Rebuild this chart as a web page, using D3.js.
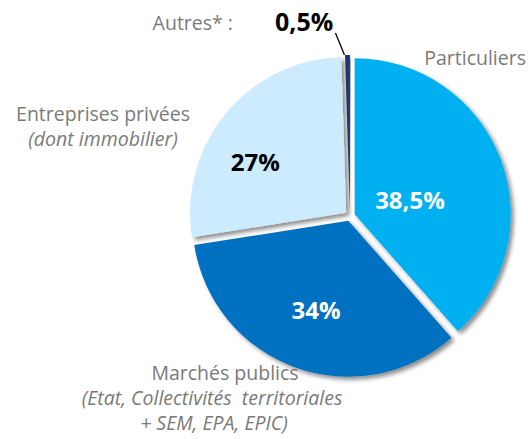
<!DOCTYPE html>
<html>
<head>
<meta charset="utf-8">
<script src="https://cdn.jsdelivr.net/npm/d3@7"></script>
<style>
  body { margin: 0; background: #fff; }
  svg { display: block; font-family: "Open Sans", Lato, sans-serif; }
  text { white-space: pre; }
</style>
</head>
<body>
<svg id="chart" width="528" height="439"></svg>
<script>
// parts of the market, clockwise from 12 o'clock
const categories = ["Particuliers", "Marchés publics", "Entreprises privées", "Autres"];
const shares = [38.5, 34, 27, 0.5];
const shareLabels = ["38,5%", "34%", "27%", "0,5%"];
const colors = ["#00b0f0", "#0070c0", "#cdebfe", "#1f3871"];

const width = 528, height = 439;
const cx = 350, cy = 216, radius = 156, explode = 5;

const svg = d3.select("#chart");

const defs = svg.append("defs");
defs.append("filter")
    .attr("id", "shadow")
    .attr("x", "-20%").attr("y", "-20%")
    .attr("width", "140%").attr("height", "140%")
    .append("feDropShadow")
    .attr("dx", 3).attr("dy", 3)
    .attr("stdDeviation", 2.2)
    .attr("flood-color", "#000")
    .attr("flood-opacity", 0.45);

const pie = d3.pie().sort(null).value(d => d.value);
const arc = d3.arc().innerRadius(0).outerRadius(radius);

const data = categories.map((c, i) => ({ name: c, value: shares[i], label: shareLabels[i], color: colors[i] }));
const arcs = pie(data);

const g = svg.append("g").attr("transform", `translate(${cx},${cy})`);

function shift(d, r) {
    const a = (d.startAngle + d.endAngle) / 2;
    return [Math.sin(a) * r, -Math.cos(a) * r];
}

g.selectAll("path.slice")
    .data(arcs)
    .join("path")
    .attr("class", "slice")
    .attr("d", arc)
    .attr("fill", d => d.data.color)
    .attr("filter", "url(#shadow)")
    .attr("transform", d => `translate(${shift(d, explode)})`);

// percentage labels inside the slices: [radius, angle offset in degrees]
const inner = {
    "Particuliers": [62, 6],
    "Marchés publics": [100, 0],
    "Entreprises privées": [109, -10]
};
const inside = arcs.filter(d => inner[d.data.name]);
g.selectAll("text.pct")
    .data(inside)
    .join("text")
    .attr("class", "pct")
    .attr("x", d => {
        const [r, da] = inner[d.data.name];
        const a = (d.startAngle + d.endAngle) / 2 + da * Math.PI / 180;
        return Math.sin(a) * r;
    })
    .attr("y", d => {
        const [r, da] = inner[d.data.name];
        const a = (d.startAngle + d.endAngle) / 2 + da * Math.PI / 180;
        return -Math.cos(a) * r;
    })
    .attr("dy", "0.36em")
    .attr("text-anchor", "middle")
    .attr("font-weight", "bold")
    .attr("font-size", 24)
    .attr("fill", d => d.data.name === "Entreprises privées" ? "#000" : "#fff")
    .text(d => d.data.label);

// category labels outside
const grey = "#7a7a7a";
const labelSize = 19.5;
function textLines(x, lines) {
    const t = svg.append("text")
        .attr("text-anchor", "middle")
        .attr("fill", grey)
        .attr("font-size", labelSize);
    lines.forEach(l => {
        t.append("tspan")
            .attr("x", l.x != null ? l.x : x)
            .attr("y", l.y)
            .attr("font-style", l.italic ? "italic" : null)
            .text(l.text);
    });
    return t;
}

textLines(103, [
    { text: "Entreprises privées", y: 121 },
    { text: "(dont immobilier)", y: 146, italic: true }
]);

textLines(225, [
    { text: "Marchés publics", y: 380 },
    { text: "(Etat, Collectivités  territoriales", y: 405, italic: true, x: 212 },
    { text: "+ SEM, EPA, EPIC)", y: 430, italic: true, x: 214 }
]);

svg.append("text")
    .attr("x", 526).attr("y", 65)
    .attr("text-anchor", "end")
    .attr("fill", grey)
    .attr("font-size", labelSize)
    .text("Particuliers");

// Autres: label with leader line
const autres = arcs[3];
const tip = shift(autres, explode);
const edge = [tip[0] + Math.sin((autres.startAngle + autres.endAngle) / 2) * radius,
              tip[1] - Math.cos((autres.startAngle + autres.endAngle) / 2) * radius];
g.append("line")
    .attr("x1", edge[0] - 3).attr("y1", edge[1])
    .attr("x2", edge[0] - 12).attr("y2", edge[1] - 22)
    .attr("stroke", "#000")
    .attr("stroke-width", 1.3);

svg.append("text")
    .attr("x", 233).attr("y", 30)
    .attr("text-anchor", "end")
    .attr("fill", grey)
    .attr("font-size", labelSize)
    .text("Autres* :");
svg.append("text")
    .attr("x", 275).attr("y", 31)
    .attr("font-weight", "bold")
    .attr("font-size", 25)
    .attr("fill", "#000")
    .text(autres.data.label);
</script>
</body>
</html>
